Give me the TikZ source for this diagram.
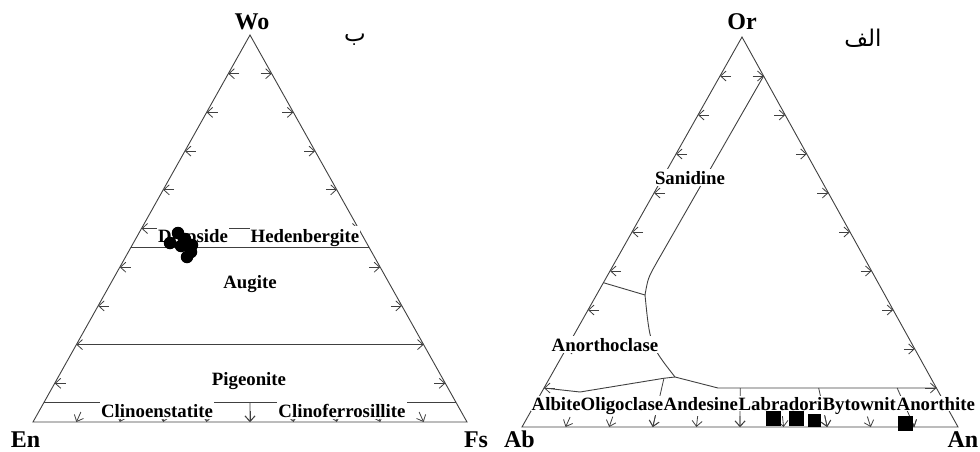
\documentclass[tikz,border=0pt]{standalone}
\usepackage{fontspec}
\setmainfont{Liberation Serif}
\newfontfamily\arabicfont[Script=Arabic]{DejaVu Sans}
\TeXXeTstate=1
\usetikzlibrary{calc,arrows.meta}

\tikzset{
  edge/.style={draw=black!75, line width=0.9pt},
  tick/.style={draw=black!75, line width=0.8pt, -{Straight Barb[length=5.5pt,width=10pt]}},
  field/.style={font=\fontsize{18.8}{20}\selectfont\bfseries, text=black, inner xsep=1pt, inner ysep=2pt},
  fieldbox/.style={field, fill=white},
  corner/.style={font=\fontsize{24}{26}\selectfont\bfseries, inner sep=0pt, anchor=base},
  panel/.style={font=\arabicfont\fontsize{23}{25}\selectfont, inner sep=0pt},
  grain/.style={circle, fill=black, inner sep=0pt, minimum size=12.5pt},
  sample/.style={rectangle, fill=black, inner sep=0pt, minimum size=15pt},
}

\begin{document}
\begin{tikzpicture}[x=1pt,y=-1pt]
  \useasboundingbox (0,0) rectangle (980,452);

  % pyroxene triangle
  \coordinate (Wo) at (250,35);
  \coordinate (En) at (33,422);
  \coordinate (Fs) at (467,422);
  \draw[edge] (Wo) -- (En) -- (Fs) -- cycle;
  \foreach \i in {1,...,9}{
    \coordinate (eb\i) at ($(En)!\i/10!(Fs)$);
    \draw[tick] ($(Wo)!\i/10!(En)+(11,0)$) -- ++(-11,0); % left side
    \draw[tick] ($(Wo)!\i/10!(Fs)-(11,0)$) -- ++(11,0); % right side
    \draw[tick] ($(eb\i)!11pt!(Wo)$) -- (eb\i); % base
  }
  \draw[edge] ($(Wo)!0.5!(En)$) -- ($(Wo)!0.5!(Fs)$); % Wo 50
  \draw[edge] ($(Wo)!0.8!(En)$) -- ($(Wo)!0.8!(Fs)$); % Wo 20
  \draw[edge] ($(Wo)!0.95!(En)$) coordinate (w5l) -- ($(Wo)!0.95!(Fs)$) coordinate (w5r); % Wo 5
  \draw[tick] ($(w5l)!0.5!(w5r)$) -- (eb5);

  \node[fieldbox, anchor=base, inner ysep=2.5pt] (di) at (193,242) {Diopside};
  \node[fieldbox, anchor=base, inner ysep=2.5pt] (hd) at (305,242) {Hedenbergite};
  \draw[edge] ($(Wo)!0.55!(En)$) -- ($(Wo)!0.55!(Fs)$); % Wo 45
  \node[field, anchor=base] (au) at (250,288) {Augite};
  \node[field, anchor=base] (pg) at (249,385) {Pigeonite};
  \node[fieldbox, anchor=base] (ce) at (157,417) {Clinoenstatite};
  \node[fieldbox, anchor=base] (cf) at (342,417) {Clinoferrosillite};

  % analysed pyroxenes
  \foreach \p [count=\k] in {(178,233),(170,243),(185,239),(181,246),(192,245),(191,252),(187,257)}
    \node[grain] (g\k) at \p {};

  \node[corner] (wo) at (252,30) {Wo};
  \node[corner] (en) at (25.5,447) {En};
  \node[corner] (fs) at (476,447) {Fs};
  \node[panel] (pb) at (355,40) {\beginR ب\endR};

  % feldspar triangle
  \coordinate (Or) at (742,37);
  \coordinate (Ab) at (522,427);
  \coordinate (An) at (958,427);
  \draw[edge] (Or) -- (Ab) -- (An) -- cycle;
  \foreach \i in {1,...,9}{
    \coordinate (ab\i) at ($(Ab)!\i/10!(An)$);
    \draw[tick] ($(Or)!\i/10!(Ab)+(11,0)$) -- ++(-11,0); % left side
    \draw[tick] ($(Or)!\i/10!(An)-(11,0)$) -- ++(11,0); % right side
    \draw[tick] ($(ab\i)!11pt!(Or)$) -- (ab\i); % base
  }
  \coordinate (sa) at ($(Or)!0.1!(An)$);
  \coordinate (ja) at (645,295);
  \coordinate (jb) at (675,377);
  \coordinate (jc) at ($(Or)!0.875!(ab3)$);
  \coordinate (o10l) at ($(Or)!0.9!(Ab)$);
  \coordinate (o10r) at ($(Or)!0.9!(An)$);
  \draw[edge] (sa) -- (657,262) .. controls (648,278) .. (ja);
  \draw[edge] ($(Or)!0.63!(Ab)$) -- (ja) .. controls (650,345) .. (jb);
  \draw[edge] (o10l) -- (580,392) -- (jc) -- (jb) -- (718,388) -- (o10r);
  \draw[tick] (jc) -- (ab3);
  \foreach \i in {5,7,9}
    \draw[tick] ($(Or)!0.9!(ab\i)$) -- (ab\i);

  \node[fieldbox, anchor=base] (sn) at (690,184) {Sanidine};
  \node[fieldbox, anchor=base] (ac) at (605,351) {Anorthoclase};
  \node[fieldbox, anchor=base west, inner ysep=1pt, inner xsep=0.5pt] (al) at (531,410) {Albite};
  \node[fieldbox, anchor=base west, inner ysep=1pt, inner xsep=0.5pt] (ol) at (580,410) {Oligoclase};
  \node[fieldbox, anchor=base west, inner ysep=1pt, inner xsep=0.5pt] (ad) at (663,410) {Andesine};
  \node[fieldbox, anchor=base west, inner ysep=1pt, inner xsep=0.5pt] (lb) at (738,410) {Labradorite};
  \node[fieldbox, anchor=base west, inner ysep=1pt, inner xsep=0.5pt] (bt) at (822,410) {Bytownite};
  \node[fieldbox, anchor=base west, inner ysep=1pt, inner xsep=0.5pt] (at) at (896,410) {Anorthite};

  % analysed plagioclases
  \node[sample] (s1) at (773,418) {};
  \node[sample] (s2) at (796,418) {};
  \node[sample, minimum size=13pt] (s3) at (814,420) {};
  \node[sample] (s4) at (905,423) {};

  \node[corner] (or) at (742,30) {Or};
  \node[corner] (abl) at (519.5,447) {Ab};
  \node[corner] (anl) at (963,447) {An};
  \node[panel] (pa) at (863,38) {\beginR الف\endR};
\end{tikzpicture}
\end{document}
